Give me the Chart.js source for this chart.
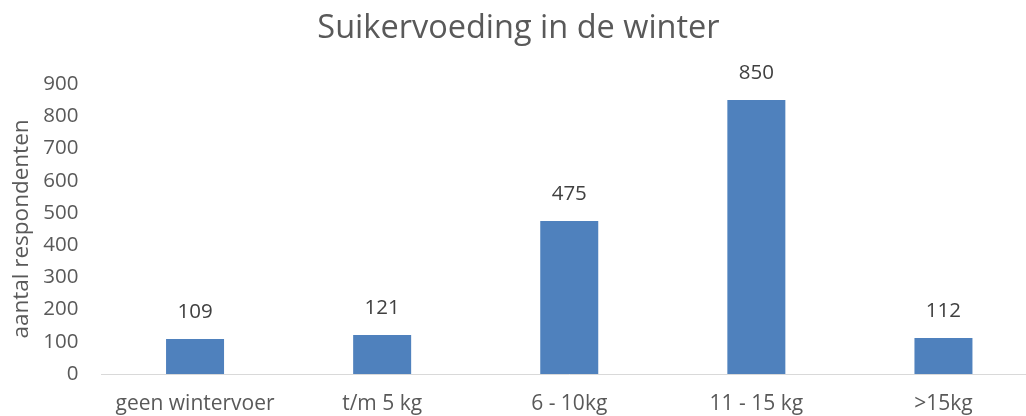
<!DOCTYPE html>
<html>
<head>
<meta charset="UTF-8">
<style>
body {
	margin: 0;
	background: white;
}

.wrap {
	width: 1026px;
	height: 416px;
	overflow: hidden;
}
</style>
<title>Suikervoeding</title>
<script src="https://cdn.jsdelivr.net/npm/chart.js@4/dist/chart.umd.min.js"></script>
</head>

<body>
	<div class="wrap">
		<canvas id="myChart" width="1037" height="416"></canvas>
	</div>

	<script>
		var categories = [ "geen wintervoer", "t/m 5 kg", "6 - 10kg", "11 - 15 kg", ">15kg" ];
		var respondents = [ 109, 121, 475, 850, 112 ];
		var yTicks = [ 0, 100, 200, 300, 400, 500, 600, 700, 800, 900 ];

		var fontName = "Open Sans";

		// value labels above each bar
		var barLabels = {
			id : "barLabels",
			afterDatasetsDraw : function(chart) {
				var ctx = chart.ctx;
				var meta = chart.getDatasetMeta(0);
				ctx.save();
				ctx.font = "20.5px '" + fontName + "'";
				ctx.fillStyle = "#404040";
				ctx.textAlign = "center";
				ctx.textBaseline = "middle";
				meta.data.forEach(function(bar, i) {
					ctx.fillText(respondents[i], bar.x, bar.y - 27);
				});
				ctx.restore();
			}
		};

		var ctx = document.getElementById("myChart");
		var myChart = new Chart(ctx, {
			type : 'bar',
			data : {
				labels : categories,
				datasets : [ {
					data : respondents,
					backgroundColor : "#4f81bd",
					categoryPercentage : 1,
					barPercentage : 0.31
				} ]
			},
			options : {
				responsive : false,
				animation : false,
				layout : {
					padding : 0
				},
				plugins : {
					legend : {
						display : false
					},
					tooltip : {
						enabled : false
					},
					title : {
						display : true,
						text : "Suikervoeding in de winter",
						color : "#595959",
						font : {
							family : fontName,
							size : 32.5,
							weight : "normal"
						},
						padding : {
							top : 9,
							bottom : 36
						}
					}
				},
				scales : {
					x : {
						grid : {
							display : false,
							drawTicks : false
						},
						border : {
							display : true,
							color : "#d9d9d9",
							width : 1
						},
						ticks : {
							color : "#595959",
							padding : 17,
							maxRotation : 0,
							font : {
								family : fontName,
								size : 21
							}
						},
						afterFit : function(s) {
							s.height = 42;
						}
					},
					y : {
						min : 0,
						max : 900,
						grid : {
							display : false,
							drawTicks : false
						},
						border : {
							display : false
						},
						afterBuildTicks : function(s) {
							s.ticks = yTicks.map(function(v) {
								return {
									value : v
								};
							});
						},
						ticks : {
							color : "#595959",
							padding : 23,
							font : {
								family : fontName,
								size : 20.5
							}
						},
						title : {
							display : true,
							text : "aantal respondenten",
							color : "#595959",
							padding : 8,
							font : {
								family : fontName,
								size : 22.5
							}
						},
						afterFit : function(s) {
							s.width = 101.5;
						}
					}
				}
			},
			plugins : [ barLabels ]
		});
	</script>

</body>
</html>
